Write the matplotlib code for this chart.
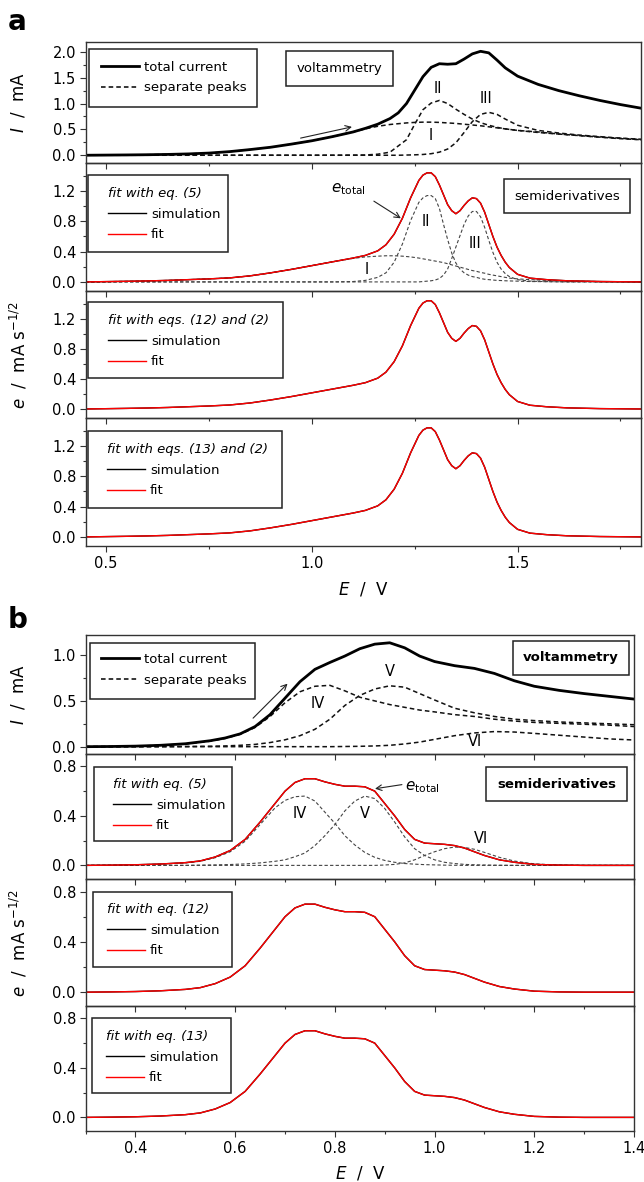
import matplotlib
matplotlib.use("Agg")
import matplotlib.pyplot as plt
from matplotlib.lines import Line2D
from matplotlib.patches import Rectangle
from matplotlib.ticker import MultipleLocator, FormatStrFormatter

W, H = 644, 1182

# ---------------- panel a : voltammetry ----------------
E_a_cv = [0.45, 0.50, 0.55, 0.60, 0.65, 0.70, 0.75, 0.80, 0.85, 0.90, 0.95, 1.00, 1.05,
          1.10, 1.13, 1.16, 1.19, 1.21, 1.23, 1.25, 1.27, 1.29, 1.31, 1.33, 1.35, 1.37,
          1.39, 1.41, 1.43, 1.45, 1.47, 1.50, 1.55, 1.60, 1.65, 1.70, 1.75, 1.80]
I_a_total = [0.0, 0.003, 0.006, 0.010, 0.016, 0.026, 0.042, 0.070, 0.110, 0.155, 0.215, 0.28, 0.36,
             0.45, 0.52, 0.60, 0.71, 0.82, 1.00, 1.26, 1.52, 1.70, 1.77, 1.76, 1.77, 1.86,
             1.96, 2.01, 1.98, 1.84, 1.69, 1.53, 1.37, 1.25, 1.15, 1.06, 0.98, 0.91]
I_a_peak1 = [0.0, 0.003, 0.006, 0.010, 0.016, 0.026, 0.042, 0.070, 0.110, 0.155, 0.215, 0.28, 0.36,
             0.45, 0.51, 0.56, 0.595, 0.61, 0.625, 0.635, 0.64, 0.64, 0.635, 0.625, 0.615, 0.60,
             0.585, 0.57, 0.55, 0.53, 0.51, 0.48, 0.44, 0.41, 0.38, 0.35, 0.33, 0.30]
I_a_peak2 = [0, 0, 0, 0, 0, 0, 0, 0, 0, 0, 0, 0, 0,
             0.002, 0.005, 0.02, 0.06, 0.18, 0.30, 0.60, 0.88, 1.01, 1.06, 1.00, 0.89, 0.79,
             0.70, 0.63, 0.58, 0.54, 0.51, 0.48, 0.45, 0.41, 0.38, 0.35, 0.32, 0.30]
I_a_peak3 = [0, 0, 0, 0, 0, 0, 0, 0, 0, 0, 0, 0, 0,
             0, 0, 0, 0, 0, 0.004, 0.008, 0.015, 0.03, 0.06, 0.12, 0.24, 0.44,
             0.65, 0.79, 0.83, 0.79, 0.70, 0.58, 0.48, 0.43, 0.39, 0.36, 0.33, 0.31]

# ---------------- panel a : semiderivatives ----------------
E_a_sd = [0.45, 0.50, 0.55, 0.60, 0.65, 0.70, 0.75, 0.80, 0.85, 0.90, 0.95, 1.00, 1.05, 1.10,
          1.13, 1.16, 1.18, 1.20, 1.22, 1.24, 1.26, 1.27, 1.28, 1.29, 1.30, 1.31, 1.32, 1.33,
          1.34, 1.35, 1.36, 1.37, 1.38, 1.39, 1.40, 1.41, 1.42, 1.43, 1.44, 1.45, 1.46, 1.47,
          1.48, 1.50, 1.53, 1.57, 1.62, 1.70, 1.80]
e_a_total = [0.0, 0.004, 0.008, 0.013, 0.02, 0.03, 0.04, 0.053, 0.08, 0.12, 0.165, 0.215, 0.265, 0.315,
             0.35, 0.41, 0.49, 0.63, 0.84, 1.11, 1.34, 1.41, 1.44, 1.44, 1.39, 1.28, 1.15, 1.02,
             0.94, 0.90, 0.94, 1.01, 1.07, 1.11, 1.10, 1.04, 0.92, 0.76, 0.60, 0.46, 0.35, 0.26,
             0.19, 0.10, 0.05, 0.03, 0.015, 0.005, 0.0]
e_a_peak1 = [0.0, 0.004, 0.008, 0.013, 0.02, 0.03, 0.04, 0.053, 0.08, 0.12, 0.165, 0.215, 0.265, 0.31,
             0.33, 0.34, 0.345, 0.345, 0.34, 0.33, 0.315, 0.305, 0.295, 0.285, 0.275, 0.265, 0.255, 0.24,
             0.225, 0.21, 0.195, 0.18, 0.165, 0.15, 0.14, 0.125, 0.115, 0.10, 0.09, 0.08, 0.07, 0.06,
             0.05, 0.04, 0.03, 0.02, 0.01, 0.005, 0.0]
e_a_peak2 = [0, 0, 0, 0, 0, 0, 0, 0, 0, 0, 0, 0, 0, 0.005,
             0.02, 0.06, 0.12, 0.26, 0.50, 0.81, 1.05, 1.11, 1.14, 1.14, 1.10, 0.97, 0.76, 0.56,
             0.38, 0.25, 0.17, 0.12, 0.09, 0.07, 0.06, 0.045, 0.035, 0.03, 0.025, 0.02, 0.018, 0.015,
             0.013, 0.01, 0.005, 0.003, 0.0, 0.0, 0.0]
e_a_peak3 = [0, 0, 0, 0, 0, 0, 0, 0, 0, 0, 0, 0, 0, 0,
             0, 0, 0, 0, 0, 0, 0, 0.005, 0.01, 0.015, 0.025, 0.045, 0.09, 0.17,
             0.31, 0.46, 0.61, 0.76, 0.87, 0.93, 0.93, 0.86, 0.72, 0.55, 0.39, 0.26, 0.17, 0.11,
             0.07, 0.03, 0.01, 0.004, 0.0, 0.0, 0.0]
# simulated and fitted semiderivatives (indistinguishable in the figure)
e_a_sim = e_a_total
e_a_fit = e_a_total

# ---------------- panel b : voltammetry ----------------
E_b_cv = [0.30, 0.35, 0.40, 0.45, 0.50, 0.55, 0.58, 0.61, 0.64, 0.67, 0.70, 0.73, 0.76, 0.79, 0.82,
          0.85, 0.88, 0.91, 0.94, 0.97, 1.00, 1.04, 1.08, 1.12, 1.16, 1.20, 1.25, 1.30, 1.35, 1.40]
I_b_total = [0.0, 0.002, 0.006, 0.015, 0.032, 0.065, 0.095, 0.14, 0.22, 0.35, 0.53, 0.71, 0.845, 0.92, 0.99,
             1.07, 1.12, 1.135, 1.08, 0.99, 0.93, 0.885, 0.855, 0.80, 0.72, 0.66, 0.615, 0.58, 0.55, 0.52]
I_b_peak4 = [0.0, 0.002, 0.006, 0.015, 0.03, 0.06, 0.09, 0.135, 0.21, 0.33, 0.48, 0.60, 0.66, 0.67, 0.61,
             0.54, 0.50, 0.46, 0.43, 0.40, 0.38, 0.35, 0.33, 0.30, 0.28, 0.265, 0.255, 0.245, 0.235, 0.22]
I_b_peak5 = [0.0, 0.0, 0.0, 0.0, 0.002, 0.005, 0.008, 0.015, 0.025, 0.045, 0.075, 0.12, 0.19, 0.30, 0.45,
             0.56, 0.63, 0.665, 0.65, 0.58, 0.51, 0.42, 0.37, 0.33, 0.30, 0.285, 0.27, 0.26, 0.25, 0.24]
I_b_peak6 = [0, 0, 0, 0, 0, 0, 0, 0, 0, 0, 0, 0, 0, 0, 0.002,
             0.004, 0.008, 0.015, 0.03, 0.05, 0.08, 0.12, 0.15, 0.165, 0.16, 0.145, 0.125, 0.105, 0.085, 0.073]

# ---------------- panel b : semiderivatives ----------------
E_b_sd = [0.30, 0.35, 0.40, 0.45, 0.50, 0.53, 0.56, 0.59, 0.62, 0.65, 0.68, 0.70, 0.72, 0.74, 0.76,
          0.78, 0.80, 0.82, 0.84, 0.86, 0.88, 0.90, 0.92, 0.94, 0.96, 0.98, 1.00, 1.02, 1.04, 1.06,
          1.08, 1.10, 1.13, 1.16, 1.20, 1.25, 1.30, 1.40]
e_b_total = [0.0, 0.002, 0.005, 0.011, 0.022, 0.036, 0.068, 0.12, 0.21, 0.35, 0.50, 0.60, 0.67, 0.70, 0.70,
             0.675, 0.655, 0.64, 0.64, 0.635, 0.60, 0.50, 0.40, 0.29, 0.21, 0.18, 0.175, 0.17, 0.16, 0.14,
             0.11, 0.08, 0.045, 0.025, 0.008, 0.002, 0.0, 0.0]
e_b_peak4 = [0.0, 0.001, 0.004, 0.01, 0.02, 0.033, 0.062, 0.11, 0.195, 0.33, 0.465, 0.525, 0.555, 0.56, 0.52,
             0.43, 0.34, 0.24, 0.165, 0.105, 0.065, 0.04, 0.025, 0.015, 0.01, 0.006, 0.004, 0.002, 0.001, 0,
             0, 0, 0, 0, 0, 0, 0, 0]
e_b_peak5 = [0, 0, 0, 0, 0, 0.002, 0.004, 0.007, 0.012, 0.02, 0.033, 0.045, 0.07, 0.10, 0.16,
             0.24, 0.33, 0.44, 0.52, 0.56, 0.54, 0.46, 0.35, 0.23, 0.135, 0.08, 0.045, 0.025, 0.015, 0.008,
             0.005, 0.003, 0.001, 0, 0, 0, 0, 0]
e_b_peak6 = [0, 0, 0, 0, 0, 0, 0, 0, 0, 0, 0, 0, 0, 0, 0,
             0, 0, 0, 0, 0, 0, 0.003, 0.008, 0.02, 0.045, 0.08, 0.11, 0.135, 0.148, 0.145,
             0.13, 0.105, 0.065, 0.035, 0.012, 0.003, 0.0, 0.0]
e_b_sim = e_b_total
e_b_fit = e_b_total

fit_titles_a = ["fit with eq. (5)", "fit with eqs. (12) and (2)", "fit with eqs. (13) and (2)"]
fit_titles_b = ["fit with eq. (5)", "fit with eq. (12)", "fit with eq. (13)"]

plt.rcParams['font.family'] = ['DejaVu Sans']
plt.rcParams['mathtext.fontset'] = 'dejavusans'

fig = plt.figure(figsize=(W / 100, H / 100), dpi=100)
FRAME = '#333333'
DASH = (0, (3, 2))


def make_ax(x0, x1, y0, y1):
    ax = fig.add_axes([x0 / W, 1 - y1 / H, (x1 - x0) / W, (y1 - y0) / H])
    ax.patch.set_visible(False)
    for sp in ax.spines.values():
        sp.set_color(FRAME)
        sp.set_linewidth(1.0)
    ax.tick_params(which='both', direction='out', top=False, right=False,
                   color=FRAME, width=0.8, labelsize=10.5, pad=3)
    ax.tick_params(which='major', length=4)
    ax.tick_params(which='minor', length=2.5)
    ax.yaxis.set_major_formatter(FormatStrFormatter('%.1f'))
    return ax


def add_legend(ax, handles, labels, box, content, title=None):
    # frame drawn as a rectangle in pixel coordinates, entries placed inside it
    x0, y0, x1, y1 = box
    ax.add_patch(Rectangle((x0 / W, 1 - y1 / H), (x1 - x0) / W, (y1 - y0) / H,
                           transform=fig.transFigure, fc='white', ec='#222222', lw=1.1,
                           zorder=4.5, clip_on=False))
    cx, cy = content
    leg = ax.legend(handles, labels, title=title, loc='upper left',
                    bbox_to_anchor=(cx / W, 1 - (cy - 6) / H), bbox_transform=fig.transFigure,
                    borderaxespad=0, frameon=False, fontsize=9.5, handlelength=2.9,
                    handletextpad=0.35, labelspacing=0.58, borderpad=0.0, alignment='left')
    leg.set_zorder(5)
    if title:
        leg.get_title().set_fontstyle('italic')
        leg.get_title().set_fontsize(9.5)
    return leg


def box_text(cx, cy, s, bold=False):
    fig.text(cx / W, 1 - cy / H, s, ha='center', va='center', fontsize=9.5,
             weight='bold' if bold else 'normal',
             bbox=dict(boxstyle='square,pad=0.8', fc='white', ec='#222222', lw=1.1))


cv_handles = [Line2D([], [], color='black', lw=2.0), Line2D([], [], color='black', lw=1.1, ls=DASH)]
cv_labels = ['total current', 'separate peaks']
fit_handles = [Line2D([], [], color='black', lw=1.0), Line2D([], [], color='red', lw=1.0)]
fit_labels = ['simulation', 'fit']

# ======================= panel a =======================
ax_l, ax_r = 85.6, 641
rows_a = [(42, 163), (163, 291), (291, 418), (418, 546)]
axes_a = [make_ax(ax_l, ax_r, r0, r1) for r0, r1 in rows_a]
for i, ax in enumerate(axes_a):
    ax.set_xlim(0.45, 1.80)
    ax.xaxis.set_major_locator(MultipleLocator(0.5))
    ax.xaxis.set_minor_locator(MultipleLocator(0.25))
    if i < 3:
        ax.tick_params(labelbottom=False)
    if i == 0:
        ax.set_ylim(-0.15, 2.19)
        ax.yaxis.set_major_locator(MultipleLocator(0.5))
        ax.yaxis.set_minor_locator(MultipleLocator(0.25))
    else:
        ax.set_ylim(-0.12, 1.57)
        ax.yaxis.set_major_locator(MultipleLocator(0.4))
        ax.yaxis.set_minor_locator(MultipleLocator(0.2))

ax = axes_a[0]
for peak in (I_a_peak1, I_a_peak2, I_a_peak3):
    ax.plot(E_a_cv, peak, color='#111111', lw=1.1, ls=DASH)
ax.plot(E_a_cv, I_a_total, color='black', lw=2.0)
ax.annotate('', xy=(1.104, 0.56), xytext=(0.966, 0.32),
            arrowprops=dict(arrowstyle='->', color='#222222', lw=0.8))
ax.text(1.306, 1.29, 'II', ha='center', va='center', fontsize=10.5)
ax.text(1.424, 1.09, 'III', ha='center', va='center', fontsize=10.5)
ax.text(1.29, 0.38, 'I', ha='center', va='center', fontsize=10.5)
add_legend(ax, cv_handles, cv_labels, (89, 49, 257, 107), (101, 66.7))
box_text(339.5, 68.5, 'voltammetry')

ax = axes_a[1]
for peak in (e_a_peak1, e_a_peak2, e_a_peak3):
    ax.plot(E_a_sd, peak, color='#444444', lw=0.8, ls=DASH)
ax.plot(E_a_sd, e_a_sim, color='black', lw=1.0)
ax.plot(E_a_sd, e_a_fit, color='red', lw=1.0)
ax.text(1.09, 1.22, r'$e_{\mathrm{total}}$', ha='center', va='center', fontsize=11)
ax.annotate('', xy=(1.222, 0.82), xytext=(1.145, 1.086),
            arrowprops=dict(arrowstyle='->', color='#222222', lw=0.8))
ax.text(1.278, 0.80, 'II', ha='center', va='center', fontsize=10.5)
ax.text(1.396, 0.51, 'III', ha='center', va='center', fontsize=10.5)
ax.text(1.133, 0.17, 'I', ha='center', va='center', fontsize=10.5)
box_text(567, 196, 'semiderivatives')

legend_boxes_a = [(88, 175, 228, 252), (88, 302, 283, 378), (88, 431, 282, 508)]
legend_content_a = [(108, 193), (108, 320), (107, 449)]
for k, ax in enumerate(axes_a[1:]):
    if k > 0:
        ax.plot(E_a_sd, e_a_sim, color='black', lw=1.0)
        ax.plot(E_a_sd, e_a_fit, color='red', lw=1.0)
    add_legend(ax, fit_handles, fit_labels, legend_boxes_a[k], legend_content_a[k], title=fit_titles_a[k])

fig.text(18.5 / W, 1 - 102 / H, r'$I$  /  mA', rotation=90, ha='center', va='center', fontsize=12)
fig.text(18.5 / W, 1 - 355 / H, r'$e$  /  mA s$^{-1/2}$', rotation=90, ha='center', va='center', fontsize=12)
fig.text(363.5 / W, 1 - 590 / H, r'$E$  /  V', ha='center', va='center', fontsize=12)
fig.text(8 / W, 1 - 30 / H, 'a', fontsize=20, weight='bold', ha='left', va='baseline')

# ======================= panel b =======================
bx_l, bx_r = 85.6, 634
rows_b = [(635, 754), (754, 879), (879, 1006), (1006, 1131)]
axes_b = [make_ax(bx_l, bx_r, r0, r1) for r0, r1 in rows_b]
for i, ax in enumerate(axes_b):
    ax.set_xlim(0.30, 1.40)
    ax.xaxis.set_major_locator(MultipleLocator(0.2))
    ax.xaxis.set_minor_locator(MultipleLocator(0.1))
    ax.xaxis.set_major_formatter(FormatStrFormatter('%.1f'))
    if i < 3:
        ax.tick_params(labelbottom=False)
    if i == 0:
        ax.set_ylim(-0.08, 1.22)
        ax.yaxis.set_major_locator(MultipleLocator(0.5))
        ax.yaxis.set_minor_locator(MultipleLocator(0.25))
    else:
        ax.set_ylim(-0.11, 0.90)
        ax.yaxis.set_major_locator(MultipleLocator(0.4))
        ax.yaxis.set_minor_locator(MultipleLocator(0.2))

ax = axes_b[0]
for peak in (I_b_peak4, I_b_peak5, I_b_peak6):
    ax.plot(E_b_cv, peak, color='#111111', lw=1.1, ls=DASH)
ax.plot(E_b_cv, I_b_total, color='black', lw=2.0)
ax.annotate('', xy=(0.709, 0.71), xytext=(0.632, 0.29),
            arrowprops=dict(arrowstyle='->', color='#222222', lw=0.8))
ax.text(0.766, 0.475, 'IV', ha='center', va='center', fontsize=10.5)
ax.text(0.91, 0.82, 'V', ha='center', va='center', fontsize=10.5)
ax.text(1.081, 0.058, 'VI', ha='center', va='center', fontsize=10.5)
add_legend(ax, cv_handles, cv_labels, (90, 643, 255, 699), (101, 659))
box_text(571, 658, 'voltammetry', bold=True)

ax = axes_b[1]
for peak in (e_b_peak4, e_b_peak5, e_b_peak6):
    ax.plot(E_b_sd, peak, color='#444444', lw=0.8, ls=DASH)
ax.plot(E_b_sd, e_b_sim, color='black', lw=1.0)
ax.plot(E_b_sd, e_b_fit, color='red', lw=1.0)
ax.text(0.975, 0.63, r'$e_{\mathrm{total}}$', ha='center', va='center', fontsize=11)
ax.annotate('', xy=(0.875, 0.616), xytext=(0.94, 0.656),
            arrowprops=dict(arrowstyle='->', color='#222222', lw=0.8))
ax.text(0.729, 0.416, 'IV', ha='center', va='center', fontsize=10.5)
ax.text(0.86, 0.416, 'V', ha='center', va='center', fontsize=10.5)
ax.text(1.094, 0.216, 'VI', ha='center', va='center', fontsize=10.5)
box_text(556.5, 784, 'semiderivatives', bold=True)

legend_boxes_b = [(94, 767, 232, 841), (93, 892, 232, 967), (92, 1018, 231, 1093)]
legend_content_b = [(113, 784), (107, 909), (106, 1036)]
for k, ax in enumerate(axes_b[1:]):
    if k > 0:
        ax.plot(E_b_sd, e_b_sim, color='black', lw=1.0)
        ax.plot(E_b_sd, e_b_fit, color='red', lw=1.0)
    add_legend(ax, fit_handles, fit_labels, legend_boxes_b[k], legend_content_b[k], title=fit_titles_b[k])

fig.text(18.5 / W, 1 - 694 / H, r'$I$  /  mA', rotation=90, ha='center', va='center', fontsize=12)
fig.text(18.5 / W, 1 - 943 / H, r'$e$  /  mA s$^{-1/2}$', rotation=90, ha='center', va='center', fontsize=12)
fig.text(360 / W, 1 - 1173 / H, r'$E$  /  V', ha='center', va='center', fontsize=12)
fig.text(8 / W, 1 - 628 / H, 'b', fontsize=20, weight='bold', ha='left', va='baseline')

fig.savefig('out.png', dpi=100)
